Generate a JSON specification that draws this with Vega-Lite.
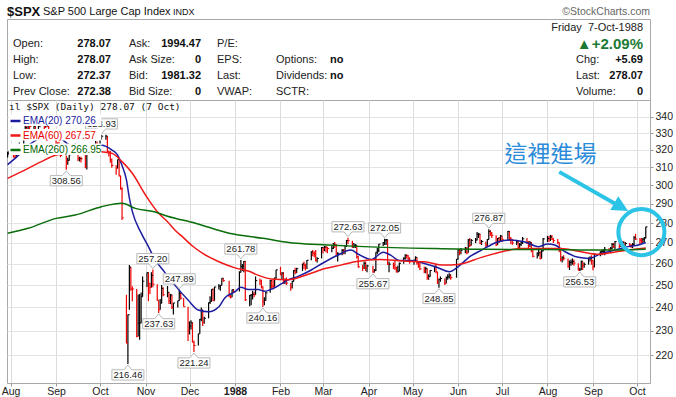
{
"$schema":"https://vega.github.io/schema/vega-lite/v6.json",
"background":"white",
"padding":{"left":0,"top":5,"right":0,"bottom":0},
"spacing":0,
"bounds":"flush",
"resolve":{"scale":{"color":"independent"},"legend":{"color":"independent"}},
"config":{"view":{"stroke":"#a8a8a8"},"font":"Liberation Sans"},
"datasets":{
"head":[
{"t":"$SPX","c":0,"r":0,"k":"sym"},
{"t":"S&P 500 Large Cap Index","c":2,"r":0,"k":"name"},
{"t":"INDX","c":5,"r":0,"k":"small"},
{"t":"©StockCharts.com","c":12,"r":0,"k":"copy"},
{"t":"Friday\u00a0\u00a07-Oct-1988","c":11,"r":1,"k":"date"},
{"t":"▲+2.09%","c":11,"r":2,"k":"pct"},
{"t":"Open:","c":1,"r":2,"k":"lab"},
{"t":"278.07","c":3,"r":2,"k":"val"},
{"t":"Ask:","c":4,"r":2,"k":"lab"},
{"t":"1994.47","c":6,"r":2,"k":"val"},
{"t":"P/E:","c":7,"r":2,"k":"lab"},
{"t":"High:","c":1,"r":3,"k":"lab"},
{"t":"278.07","c":3,"r":3,"k":"val"},
{"t":"Ask Size:","c":4,"r":3,"k":"lab"},
{"t":"0","c":6,"r":3,"k":"val"},
{"t":"EPS:","c":7,"r":3,"k":"lab"},
{"t":"Options:","c":8,"r":3,"k":"lab"},
{"t":"no","c":9,"r":3,"k":"valL"},
{"t":"Chg:","c":10,"r":3,"k":"lab"},
{"t":"+5.69","c":11,"r":3,"k":"val"},
{"t":"Low:","c":1,"r":4,"k":"lab"},
{"t":"272.37","c":3,"r":4,"k":"val"},
{"t":"Bid:","c":4,"r":4,"k":"lab"},
{"t":"1981.32","c":6,"r":4,"k":"val"},
{"t":"Last:","c":7,"r":4,"k":"lab"},
{"t":"Dividends:","c":8,"r":4,"k":"lab"},
{"t":"no","c":9,"r":4,"k":"valL"},
{"t":"Last:","c":10,"r":4,"k":"lab"},
{"t":"278.07","c":11,"r":4,"k":"val"},
{"t":"Prev Close:","c":1,"r":5,"k":"lab"},
{"t":"272.38","c":3,"r":5,"k":"val"},
{"t":"Bid Size:","c":4,"r":5,"k":"lab"},
{"t":"0","c":6,"r":5,"k":"val"},
{"t":"VWAP:","c":7,"r":5,"k":"lab"},
{"t":"SCTR:","c":8,"r":5,"k":"lab"},
{"t":"Volume:","c":10,"r":5,"k":"lab"},
{"t":"0","c":11,"r":5,"k":"val"}
],
"px":[
{"d":"1987-07-30","h":318.9,"l":315.6,"c":318.05},
{"d":"1987-07-31","h":319.3,"l":317.0,"c":318.66},
{"d":"1987-08-03","h":319.0,"l":315.5,"c":317.57},
{"d":"1987-08-04","h":318.3,"l":315.0,"c":316.23},
{"d":"1987-08-05","h":320.0,"l":316.2,"c":318.45},
{"d":"1987-08-06","h":322.8,"l":318.0,"c":322.1},
{"d":"1987-08-07","h":324.3,"l":321.5,"c":323.0},
{"d":"1987-08-10","h":328.0,"l":322.0,"c":328.0},
{"d":"1987-08-11","h":334.6,"l":328.0,"c":333.33},
{"d":"1987-08-12","h":334.6,"l":331.0,"c":332.39},
{"d":"1987-08-13","h":335.5,"l":331.5,"c":334.65},
{"d":"1987-08-14","h":335.0,"l":332.0,"c":333.99},
{"d":"1987-08-17","h":335.5,"l":332.5,"c":334.11},
{"d":"1987-08-18","h":334.0,"l":326.8,"c":329.25},
{"d":"1987-08-19","h":330.0,"l":326.0,"c":329.83},
{"d":"1987-08-20","h":335.2,"l":329.8,"c":334.84},
{"d":"1987-08-21","h":337.0,"l":333.5,"c":335.9},
{"d":"1987-08-24","h":335.9,"l":331.9,"c":333.33},
{"d":"1987-08-25","h":337.9,"l":333.3,"c":336.77},
{"d":"1987-08-26","h":337.5,"l":333.5,"c":334.57},
{"d":"1987-08-27","h":334.6,"l":330.5,"c":331.38},
{"d":"1987-08-28","h":331.4,"l":326.5,"c":327.04},
{"d":"1987-08-31","h":330.0,"l":326.0,"c":329.8},
{"d":"1987-09-01","h":332.2,"l":322.8,"c":323.4},
{"d":"1987-09-02","h":324.5,"l":318.2,"c":321.68},
{"d":"1987-09-03","h":324.8,"l":318.4,"c":320.21},
{"d":"1987-09-04","h":322.2,"l":315.8,"c":316.7},
{"d":"1987-09-08","h":316.7,"l":308.56,"c":313.56},
{"d":"1987-09-09","h":315.4,"l":311.5,"c":313.92},
{"d":"1987-09-10","h":318.5,"l":313.9,"c":317.13},
{"d":"1987-09-11","h":322.4,"l":317.1,"c":321.98},
{"d":"1987-09-14","h":323.8,"l":320.2,"c":323.08},
{"d":"1987-09-15","h":323.1,"l":317.5,"c":317.74},
{"d":"1987-09-16","h":319.4,"l":313.6,"c":314.86},
{"d":"1987-09-17","h":316.0,"l":313.3,"c":314.93},
{"d":"1987-09-18","h":316.0,"l":312.7,"c":314.86},
{"d":"1987-09-21","h":317.8,"l":309.5,"c":310.54},
{"d":"1987-09-22","h":319.6,"l":308.7,"c":319.5},
{"d":"1987-09-23","h":322.2,"l":319.0,"c":321.19},
{"d":"1987-09-24","h":322.0,"l":319.3,"c":319.72},
{"d":"1987-09-25","h":320.8,"l":318.5,"c":320.16},
{"d":"1987-09-28","h":325.3,"l":320.2,"c":323.2},
{"d":"1987-09-29","h":324.9,"l":320.6,"c":321.69},
{"d":"1987-09-30","h":322.7,"l":320.0,"c":321.83},
{"d":"1987-10-01","h":327.3,"l":321.8,"c":327.33},
{"d":"1987-10-02","h":328.93,"l":326.0,"c":328.07},
{"d":"1987-10-05","h":328.9,"l":326.0,"c":328.08},
{"d":"1987-10-06","h":328.1,"l":318.7,"c":319.22},
{"d":"1987-10-07","h":319.3,"l":316.2,"c":318.54},
{"d":"1987-10-08","h":319.3,"l":312.5,"c":314.16},
{"d":"1987-10-09","h":315.0,"l":309.8,"c":311.07},
{"d":"1987-10-12","h":311.1,"l":305.8,"c":309.39},
{"d":"1987-10-13","h":314.5,"l":309.4,"c":314.52},
{"d":"1987-10-14","h":314.5,"l":304.8,"c":305.23},
{"d":"1987-10-15","h":305.2,"l":297.6,"c":298.08},
{"d":"1987-10-16","h":298.9,"l":281.5,"c":282.7},
{"d":"1987-10-19","h":245.6,"l":224.8,"c":224.84},
{"d":"1987-10-20","h":237.0,"l":216.46,"c":236.83},
{"d":"1987-10-21","h":259.3,"l":239.0,"c":258.38},
{"d":"1987-10-22","h":258.4,"l":247.5,"c":248.25},
{"d":"1987-10-23","h":249.5,"l":242.8,"c":248.22},
{"d":"1987-10-26","h":248.2,"l":227.3,"c":227.67},
{"d":"1987-10-27","h":245.8,"l":227.7,"c":233.19},
{"d":"1987-10-28","h":246.0,"l":226.3,"c":233.28},
{"d":"1987-10-29","h":246.7,"l":233.3,"c":244.77},
{"d":"1987-10-30","h":254.0,"l":244.8,"c":251.79},
{"d":"1987-11-02","h":255.8,"l":249.2,"c":255.75},
{"d":"1987-11-03","h":255.8,"l":242.8,"c":250.82},
{"d":"1987-11-04","h":251.0,"l":246.0,"c":248.96},
{"d":"1987-11-05","h":256.0,"l":248.9,"c":254.48},
{"d":"1987-11-06","h":257.2,"l":249.0,"c":250.41},
{"d":"1987-11-09","h":250.4,"l":243.0,"c":243.17},
{"d":"1987-11-10","h":243.2,"l":237.63,"c":239.0},
{"d":"1987-11-11","h":243.8,"l":239.0,"c":241.9},
{"d":"1987-11-12","h":250.0,"l":241.9,"c":248.52},
{"d":"1987-11-13","h":249.0,"l":245.0,"c":245.64},
{"d":"1987-11-16","h":249.6,"l":244.5,"c":246.76},
{"d":"1987-11-17","h":246.8,"l":241.5,"c":243.04},
{"d":"1987-11-18","h":246.0,"l":241.5,"c":245.55},
{"d":"1987-11-19","h":245.6,"l":239.3,"c":240.05},
{"d":"1987-11-20","h":242.0,"l":237.0,"c":242.0},
{"d":"1987-11-23","h":243.0,"l":240.0,"c":242.99},
{"d":"1987-11-24","h":247.89,"l":243.0,"c":246.39},
{"d":"1987-11-25","h":246.4,"l":243.5,"c":244.1},
{"d":"1987-11-27","h":244.1,"l":240.3,"c":240.34},
{"d":"1987-11-30","h":240.3,"l":225.8,"c":230.3},
{"d":"1987-12-01","h":234.0,"l":228.5,"c":232.0},
{"d":"1987-12-02","h":234.5,"l":230.5,"c":233.45},
{"d":"1987-12-03","h":233.5,"l":225.2,"c":225.21},
{"d":"1987-12-04","h":226.0,"l":221.24,"c":223.92},
{"d":"1987-12-07","h":228.8,"l":223.9,"c":228.76},
{"d":"1987-12-08","h":235.0,"l":228.8,"c":234.91},
{"d":"1987-12-09","h":240.0,"l":234.0,"c":238.89},
{"d":"1987-12-10","h":239.0,"l":232.0,"c":233.57},
{"d":"1987-12-11","h":236.0,"l":233.0,"c":235.32},
{"d":"1987-12-14","h":242.2,"l":235.3,"c":242.19},
{"d":"1987-12-15","h":245.0,"l":241.5,"c":242.81},
{"d":"1987-12-16","h":248.1,"l":242.5,"c":248.08},
{"d":"1987-12-17","h":248.5,"l":242.9,"c":242.98},
{"d":"1987-12-18","h":249.2,"l":243.0,"c":249.16},
{"d":"1987-12-21","h":250.5,"l":248.0,"c":249.54},
{"d":"1987-12-22","h":250.0,"l":247.5,"c":249.95},
{"d":"1987-12-23","h":253.2,"l":249.9,"c":253.16},
{"d":"1987-12-24","h":253.2,"l":251.5,"c":252.03},
{"d":"1987-12-28","h":252.0,"l":244.5,"c":245.57},
{"d":"1987-12-29","h":245.9,"l":244.0,"c":244.59},
{"d":"1987-12-30","h":248.0,"l":244.6,"c":247.86},
{"d":"1987-12-31","h":248.2,"l":246.5,"c":247.08},
{"d":"1988-01-04","h":256.4,"l":247.1,"c":255.94},
{"d":"1988-01-05","h":261.78,"l":255.9,"c":258.63},
{"d":"1988-01-06","h":259.8,"l":256.5,"c":258.89},
{"d":"1988-01-07","h":261.2,"l":256.0,"c":261.07},
{"d":"1988-01-08","h":261.1,"l":242.9,"c":243.4},
{"d":"1988-01-11","h":245.5,"l":240.5,"c":245.42},
{"d":"1988-01-12","h":246.0,"l":241.0,"c":245.81},
{"d":"1988-01-13","h":247.5,"l":243.5,"c":245.88},
{"d":"1988-01-14","h":247.0,"l":244.5,"c":245.63},
{"d":"1988-01-15","h":254.0,"l":245.6,"c":252.05},
{"d":"1988-01-18","h":253.0,"l":250.0,"c":251.88},
{"d":"1988-01-19","h":252.5,"l":248.5,"c":249.32},
{"d":"1988-01-20","h":249.3,"l":240.16,"c":242.63},
{"d":"1988-01-21","h":244.5,"l":241.0,"c":243.14},
{"d":"1988-01-22","h":247.0,"l":243.1,"c":246.5},
{"d":"1988-01-25","h":252.5,"l":246.5,"c":252.17},
{"d":"1988-01-26","h":252.2,"l":248.5,"c":249.57},
{"d":"1988-01-27","h":252.8,"l":248.0,"c":249.38},
{"d":"1988-01-28","h":253.5,"l":249.4,"c":253.29},
{"d":"1988-01-29","h":257.1,"l":253.0,"c":257.07},
{"d":"1988-02-01","h":258.5,"l":254.5,"c":255.04},
{"d":"1988-02-02","h":256.0,"l":252.5,"c":255.57},
{"d":"1988-02-03","h":256.0,"l":250.5,"c":252.21},
{"d":"1988-02-04","h":253.0,"l":250.5,"c":252.21},
{"d":"1988-02-05","h":253.5,"l":250.0,"c":250.96},
{"d":"1988-02-08","h":251.0,"l":247.5,"c":249.1},
{"d":"1988-02-09","h":252.0,"l":248.5,"c":251.72},
{"d":"1988-02-10","h":257.0,"l":251.7,"c":256.66},
{"d":"1988-02-11","h":258.0,"l":255.0,"c":255.95},
{"d":"1988-02-12","h":258.0,"l":255.5,"c":257.63},
{"d":"1988-02-16","h":260.0,"l":256.5,"c":259.83},
{"d":"1988-02-17","h":261.0,"l":257.5,"c":259.21},
{"d":"1988-02-18","h":260.0,"l":256.8,"c":257.91},
{"d":"1988-02-19","h":261.7,"l":257.5,"c":261.61},
{"d":"1988-02-22","h":266.0,"l":261.6,"c":265.64},
{"d":"1988-02-23","h":266.5,"l":263.5,"c":265.02},
{"d":"1988-02-24","h":266.0,"l":263.0,"c":264.43},
{"d":"1988-02-25","h":266.5,"l":261.0,"c":261.58},
{"d":"1988-02-26","h":263.0,"l":260.5,"c":262.46},
{"d":"1988-02-29","h":268.0,"l":262.5,"c":267.82},
{"d":"1988-03-01","h":268.0,"l":265.0,"c":267.22},
{"d":"1988-03-02","h":268.5,"l":266.0,"c":267.98},
{"d":"1988-03-03","h":268.5,"l":265.5,"c":267.88},
{"d":"1988-03-04","h":268.0,"l":265.0,"c":267.3},
{"d":"1988-03-07","h":268.5,"l":265.5,"c":267.38},
{"d":"1988-03-08","h":270.0,"l":267.0,"c":269.43},
{"d":"1988-03-09","h":270.5,"l":267.5,"c":269.06},
{"d":"1988-03-10","h":269.5,"l":263.5,"c":263.84},
{"d":"1988-03-11","h":265.5,"l":261.0,"c":264.94},
{"d":"1988-03-14","h":267.0,"l":264.0,"c":266.37},
{"d":"1988-03-15","h":267.0,"l":264.5,"c":266.13},
{"d":"1988-03-16","h":269.0,"l":264.5,"c":268.65},
{"d":"1988-03-17","h":271.5,"l":268.0,"c":271.22},
{"d":"1988-03-18","h":272.63,"l":269.5,"c":271.12},
{"d":"1988-03-21","h":271.1,"l":267.5,"c":268.74},
{"d":"1988-03-22","h":270.0,"l":267.5,"c":268.84},
{"d":"1988-03-23","h":269.5,"l":267.5,"c":268.91},
{"d":"1988-03-24","h":268.9,"l":262.5,"c":263.35},
{"d":"1988-03-25","h":263.5,"l":258.0,"c":258.51},
{"d":"1988-03-28","h":259.5,"l":256.5,"c":258.06},
{"d":"1988-03-29","h":261.0,"l":257.5,"c":260.07},
{"d":"1988-03-30","h":261.0,"l":256.5,"c":258.07},
{"d":"1988-03-31","h":259.5,"l":256.0,"c":258.89},
{"d":"1988-04-04","h":259.0,"l":255.67,"c":256.09},
{"d":"1988-04-05","h":257.5,"l":255.8,"c":256.72},
{"d":"1988-04-06","h":265.5,"l":256.5,"c":265.49},
{"d":"1988-04-07","h":267.5,"l":264.5,"c":266.16},
{"d":"1988-04-08","h":269.5,"l":265.5,"c":269.43},
{"d":"1988-04-11","h":270.5,"l":268.5,"c":270.16},
{"d":"1988-04-12","h":272.05,"l":269.0,"c":271.37},
{"d":"1988-04-13","h":271.9,"l":269.0,"c":271.58},
{"d":"1988-04-14","h":271.6,"l":259.4,"c":259.75},
{"d":"1988-04-15","h":261.0,"l":256.0,"c":259.77},
{"d":"1988-04-18","h":260.5,"l":257.5,"c":259.21},
{"d":"1988-04-19","h":261.5,"l":257.0,"c":257.92},
{"d":"1988-04-20","h":258.5,"l":255.8,"c":256.13},
{"d":"1988-04-21","h":259.0,"l":255.8,"c":256.42},
{"d":"1988-04-22","h":260.5,"l":256.4,"c":260.14},
{"d":"1988-04-25","h":263.0,"l":260.0,"c":262.51},
{"d":"1988-04-26","h":264.5,"l":262.0,"c":263.93},
{"d":"1988-04-27","h":264.5,"l":262.5,"c":263.8},
{"d":"1988-04-28","h":264.0,"l":261.5,"c":262.61},
{"d":"1988-04-29","h":263.0,"l":260.0,"c":261.33},
{"d":"1988-05-02","h":262.0,"l":259.5,"c":261.56},
{"d":"1988-05-03","h":263.5,"l":261.0,"c":263.0},
{"d":"1988-05-04","h":263.0,"l":259.5,"c":260.32},
{"d":"1988-05-05","h":261.0,"l":258.0,"c":258.79},
{"d":"1988-05-06","h":260.5,"l":257.0,"c":257.48},
{"d":"1988-05-09","h":258.5,"l":255.5,"c":256.54},
{"d":"1988-05-10","h":258.5,"l":255.5,"c":257.62},
{"d":"1988-05-11","h":257.6,"l":252.5,"c":253.31},
{"d":"1988-05-12","h":255.0,"l":252.5,"c":254.04},
{"d":"1988-05-13","h":257.0,"l":254.0,"c":256.78},
{"d":"1988-05-16","h":259.0,"l":256.0,"c":258.71},
{"d":"1988-05-17","h":260.0,"l":255.5,"c":256.12},
{"d":"1988-05-18","h":256.1,"l":250.5,"c":251.35},
{"d":"1988-05-19","h":253.0,"l":248.85,"c":252.57},
{"d":"1988-05-20","h":254.0,"l":251.5,"c":253.02},
{"d":"1988-05-23","h":253.0,"l":250.0,"c":250.83},
{"d":"1988-05-24","h":254.0,"l":250.8,"c":253.51},
{"d":"1988-05-25","h":255.0,"l":252.5,"c":253.76},
{"d":"1988-05-26","h":255.5,"l":253.0,"c":254.63},
{"d":"1988-05-27","h":255.0,"l":252.5,"c":253.42},
{"d":"1988-05-31","h":262.2,"l":253.4,"c":262.16},
{"d":"1988-06-01","h":267.0,"l":262.0,"c":266.69},
{"d":"1988-06-02","h":267.0,"l":264.0,"c":265.33},
{"d":"1988-06-03","h":267.5,"l":264.5,"c":266.45},
{"d":"1988-06-06","h":268.0,"l":265.0,"c":267.05},
{"d":"1988-06-07","h":268.0,"l":264.5,"c":265.17},
{"d":"1988-06-08","h":272.0,"l":265.2,"c":271.52},
{"d":"1988-06-09","h":272.5,"l":268.0,"c":268.82},
{"d":"1988-06-10","h":272.0,"l":268.8,"c":271.26},
{"d":"1988-06-13","h":272.5,"l":270.0,"c":271.43},
{"d":"1988-06-14","h":275.5,"l":271.4,"c":274.3},
{"d":"1988-06-15","h":275.0,"l":272.5,"c":274.45},
{"d":"1988-06-16","h":274.5,"l":269.5,"c":269.77},
{"d":"1988-06-17","h":271.5,"l":269.0,"c":270.68},
{"d":"1988-06-20","h":270.7,"l":267.5,"c":268.94},
{"d":"1988-06-21","h":272.0,"l":268.0,"c":271.67},
{"d":"1988-06-22","h":276.87,"l":271.7,"c":275.66},
{"d":"1988-06-23","h":276.5,"l":273.5,"c":274.82},
{"d":"1988-06-24","h":275.5,"l":272.5,"c":273.78},
{"d":"1988-06-27","h":273.8,"l":268.5,"c":269.06},
{"d":"1988-06-28","h":272.5,"l":269.0,"c":272.31},
{"d":"1988-06-29","h":273.0,"l":270.0,"c":270.98},
{"d":"1988-06-30","h":274.0,"l":270.5,"c":273.5},
{"d":"1988-07-01","h":273.5,"l":270.5,"c":271.78},
{"d":"1988-07-05","h":276.0,"l":271.5,"c":275.81},
{"d":"1988-07-06","h":276.0,"l":271.0,"c":272.02},
{"d":"1988-07-07","h":273.0,"l":269.5,"c":271.78},
{"d":"1988-07-08","h":272.0,"l":269.0,"c":270.02},
{"d":"1988-07-11","h":271.5,"l":269.0,"c":270.55},
{"d":"1988-07-12","h":271.0,"l":267.0,"c":267.85},
{"d":"1988-07-13","h":270.0,"l":266.5,"c":269.32},
{"d":"1988-07-14","h":271.0,"l":268.5,"c":270.26},
{"d":"1988-07-15","h":273.0,"l":269.5,"c":272.05},
{"d":"1988-07-18","h":272.5,"l":269.5,"c":270.51},
{"d":"1988-07-19","h":271.0,"l":267.5,"c":268.47},
{"d":"1988-07-20","h":271.0,"l":268.0,"c":270.0},
{"d":"1988-07-21","h":270.5,"l":265.5,"c":266.66},
{"d":"1988-07-22","h":267.0,"l":263.0,"c":263.5},
{"d":"1988-07-25","h":265.5,"l":262.5,"c":264.68},
{"d":"1988-07-26","h":266.5,"l":263.5,"c":265.19},
{"d":"1988-07-27","h":266.0,"l":262.0,"c":262.5},
{"d":"1988-07-28","h":266.5,"l":262.5,"c":266.02},
{"d":"1988-07-29","h":272.5,"l":266.0,"c":272.02},
{"d":"1988-08-01","h":273.5,"l":270.5,"c":272.21},
{"d":"1988-08-02","h":273.5,"l":270.5,"c":272.06},
{"d":"1988-08-03","h":274.0,"l":271.0,"c":272.98},
{"d":"1988-08-04","h":274.0,"l":271.5,"c":271.93},
{"d":"1988-08-05","h":272.5,"l":270.0,"c":271.15},
{"d":"1988-08-08","h":272.0,"l":269.5,"c":270.2},
{"d":"1988-08-09","h":270.2,"l":265.5,"c":266.49},
{"d":"1988-08-10","h":266.5,"l":261.0,"c":261.9},
{"d":"1988-08-11","h":263.5,"l":260.5,"c":262.75},
{"d":"1988-08-12","h":264.0,"l":261.5,"c":262.55},
{"d":"1988-08-15","h":262.5,"l":258.0,"c":258.69},
{"d":"1988-08-16","h":261.5,"l":257.0,"c":260.56},
{"d":"1988-08-17","h":262.0,"l":259.0,"c":260.77},
{"d":"1988-08-18","h":262.5,"l":259.5,"c":261.03},
{"d":"1988-08-19","h":262.0,"l":259.0,"c":260.24},
{"d":"1988-08-22","h":260.2,"l":256.8,"c":256.98},
{"d":"1988-08-23","h":258.0,"l":256.53,"c":257.09},
{"d":"1988-08-24","h":261.5,"l":257.0,"c":261.13},
{"d":"1988-08-25","h":261.0,"l":257.0,"c":259.18},
{"d":"1988-08-26","h":260.5,"l":258.0,"c":259.68},
{"d":"1988-08-29","h":263.0,"l":259.5,"c":262.33},
{"d":"1988-08-30","h":263.5,"l":261.0,"c":262.51},
{"d":"1988-08-31","h":264.0,"l":259.5,"c":261.52},
{"d":"1988-09-01","h":261.5,"l":256.9,"c":258.35},
{"d":"1988-09-02","h":265.0,"l":258.3,"c":264.48},
{"d":"1988-09-06","h":266.0,"l":263.5,"c":265.59},
{"d":"1988-09-07","h":266.5,"l":264.0,"c":265.87},
{"d":"1988-09-08","h":267.0,"l":264.5,"c":265.88},
{"d":"1988-09-09","h":268.0,"l":264.0,"c":266.84},
{"d":"1988-09-12","h":267.5,"l":265.5,"c":266.47},
{"d":"1988-09-13","h":268.0,"l":265.0,"c":267.43},
{"d":"1988-09-14","h":270.0,"l":267.0,"c":269.31},
{"d":"1988-09-15","h":270.0,"l":267.5,"c":268.13},
{"d":"1988-09-16","h":271.0,"l":267.0,"c":270.65},
{"d":"1988-09-19","h":270.6,"l":267.5,"c":268.82},
{"d":"1988-09-20","h":270.5,"l":268.0,"c":269.73},
{"d":"1988-09-21","h":271.0,"l":269.0,"c":270.16},
{"d":"1988-09-22","h":271.0,"l":268.5,"c":269.18},
{"d":"1988-09-23","h":270.5,"l":268.5,"c":269.76},
{"d":"1988-09-26","h":270.0,"l":268.0,"c":268.88},
{"d":"1988-09-27","h":269.5,"l":267.5,"c":268.26},
{"d":"1988-09-28","h":270.0,"l":267.5,"c":269.08},
{"d":"1988-09-29","h":273.5,"l":269.0,"c":272.59},
{"d":"1988-09-30","h":274.5,"l":271.5,"c":271.91},
{"d":"1988-10-03","h":272.5,"l":269.5,"c":271.38},
{"d":"1988-10-04","h":272.5,"l":270.0,"c":270.62},
{"d":"1988-10-05","h":272.5,"l":269.5,"c":271.86},
{"d":"1988-10-06","h":273.0,"l":270.5,"c":272.38},
{"d":"1988-10-07","h":278.07,"l":272.37,"c":278.07}
],
"ema":[
{"d":"1987-07-30","s":"EMA(20) 270.26","v":311.5},
{"d":"1987-08-06","s":"EMA(20) 270.26","v":316.5},
{"d":"1987-08-13","s":"EMA(20) 270.26","v":322.5},
{"d":"1987-08-20","s":"EMA(20) 270.26","v":326.5},
{"d":"1987-08-27","s":"EMA(20) 270.26","v":329.5},
{"d":"1987-09-03","s":"EMA(20) 270.26","v":327.5},
{"d":"1987-09-10","s":"EMA(20) 270.26","v":323.0},
{"d":"1987-09-14","s":"EMA(20) 270.26","v":321.9},
{"d":"1987-09-18","s":"EMA(20) 270.26","v":320.3},
{"d":"1987-09-25","s":"EMA(20) 270.26","v":320.0},
{"d":"1987-10-02","s":"EMA(20) 270.26","v":322.7},
{"d":"1987-10-09","s":"EMA(20) 270.26","v":320.0},
{"d":"1987-10-13","s":"EMA(20) 270.26","v":317.0},
{"d":"1987-10-16","s":"EMA(20) 270.26","v":311.0},
{"d":"1987-10-19","s":"EMA(20) 270.26","v":303.0},
{"d":"1987-10-21","s":"EMA(20) 270.26","v":293.0},
{"d":"1987-10-23","s":"EMA(20) 270.26","v":286.0},
{"d":"1987-10-29","s":"EMA(20) 270.26","v":275.0},
{"d":"1987-11-03","s":"EMA(20) 270.26","v":268.2},
{"d":"1987-11-07","s":"EMA(20) 270.26","v":262.5},
{"d":"1987-11-14","s":"EMA(20) 270.26","v":256.0},
{"d":"1987-11-21","s":"EMA(20) 270.26","v":250.0},
{"d":"1987-11-30","s":"EMA(20) 270.26","v":243.3},
{"d":"1987-12-07","s":"EMA(20) 270.26","v":238.9},
{"d":"1987-12-14","s":"EMA(20) 270.26","v":238.1},
{"d":"1987-12-21","s":"EMA(20) 270.26","v":240.3},
{"d":"1987-12-25","s":"EMA(20) 270.26","v":244.2},
{"d":"1988-01-01","s":"EMA(20) 270.26","v":247.0},
{"d":"1988-01-05","s":"EMA(20) 270.26","v":249.0},
{"d":"1988-01-10","s":"EMA(20) 270.26","v":248.0},
{"d":"1988-01-17","s":"EMA(20) 270.26","v":248.0},
{"d":"1988-01-21","s":"EMA(20) 270.26","v":247.2},
{"d":"1988-01-28","s":"EMA(20) 270.26","v":248.8},
{"d":"1988-02-06","s":"EMA(20) 270.26","v":252.3},
{"d":"1988-02-13","s":"EMA(20) 270.26","v":254.0},
{"d":"1988-02-22","s":"EMA(20) 270.26","v":257.0},
{"d":"1988-03-01","s":"EMA(20) 270.26","v":260.3},
{"d":"1988-03-11","s":"EMA(20) 270.26","v":264.0},
{"d":"1988-03-20","s":"EMA(20) 270.26","v":266.5},
{"d":"1988-03-25","s":"EMA(20) 270.26","v":264.5},
{"d":"1988-04-03","s":"EMA(20) 270.26","v":262.0},
{"d":"1988-04-11","s":"EMA(20) 270.26","v":265.5},
{"d":"1988-04-16","s":"EMA(20) 270.26","v":264.1},
{"d":"1988-04-22","s":"EMA(20) 270.26","v":261.5},
{"d":"1988-04-30","s":"EMA(20) 270.26","v":261.5},
{"d":"1988-05-09","s":"EMA(20) 270.26","v":260.1},
{"d":"1988-05-18","s":"EMA(20) 270.26","v":258.2},
{"d":"1988-05-26","s":"EMA(20) 270.26","v":256.2},
{"d":"1988-06-01","s":"EMA(20) 270.26","v":258.5},
{"d":"1988-06-09","s":"EMA(20) 270.26","v":263.3},
{"d":"1988-06-17","s":"EMA(20) 270.26","v":266.5},
{"d":"1988-06-28","s":"EMA(20) 270.26","v":270.5},
{"d":"1988-07-07","s":"EMA(20) 270.26","v":271.5},
{"d":"1988-07-16","s":"EMA(20) 270.26","v":270.6},
{"d":"1988-07-26","s":"EMA(20) 270.26","v":268.2},
{"d":"1988-08-01","s":"EMA(20) 270.26","v":269.5},
{"d":"1988-08-06","s":"EMA(20) 270.26","v":269.0},
{"d":"1988-08-13","s":"EMA(20) 270.26","v":265.7},
{"d":"1988-08-22","s":"EMA(20) 270.26","v":263.0},
{"d":"1988-08-29","s":"EMA(20) 270.26","v":262.5},
{"d":"1988-09-07","s":"EMA(20) 270.26","v":264.9},
{"d":"1988-09-16","s":"EMA(20) 270.26","v":266.5},
{"d":"1988-09-25","s":"EMA(20) 270.26","v":268.2},
{"d":"1988-10-02","s":"EMA(20) 270.26","v":269.0},
{"d":"1988-10-07","s":"EMA(20) 270.26","v":270.26},
{"d":"1987-07-30","s":"EMA(60) 267.57","v":303.8},
{"d":"1987-08-13","s":"EMA(60) 267.57","v":309.4},
{"d":"1987-08-22","s":"EMA(60) 267.57","v":313.2},
{"d":"1987-09-01","s":"EMA(60) 267.57","v":317.0},
{"d":"1987-09-10","s":"EMA(60) 267.57","v":318.0},
{"d":"1987-09-28","s":"EMA(60) 267.57","v":319.0},
{"d":"1987-10-09","s":"EMA(60) 267.57","v":318.0},
{"d":"1987-10-16","s":"EMA(60) 267.57","v":313.2},
{"d":"1987-10-23","s":"EMA(60) 267.57","v":306.6},
{"d":"1987-11-01","s":"EMA(60) 267.57","v":294.7},
{"d":"1987-11-10","s":"EMA(60) 267.57","v":285.0},
{"d":"1987-11-16","s":"EMA(60) 267.57","v":280.7},
{"d":"1987-11-21","s":"EMA(60) 267.57","v":276.5},
{"d":"1987-11-27","s":"EMA(60) 267.57","v":272.5},
{"d":"1987-12-03","s":"EMA(60) 267.57","v":268.5},
{"d":"1987-12-10","s":"EMA(60) 267.57","v":264.9},
{"d":"1987-12-21","s":"EMA(60) 267.57","v":260.9},
{"d":"1988-01-01","s":"EMA(60) 267.57","v":258.0},
{"d":"1988-01-10","s":"EMA(60) 267.57","v":256.5},
{"d":"1988-01-17","s":"EMA(60) 267.57","v":254.5},
{"d":"1988-01-26","s":"EMA(60) 267.57","v":252.8},
{"d":"1988-02-06","s":"EMA(60) 267.57","v":252.5},
{"d":"1988-02-19","s":"EMA(60) 267.57","v":254.8},
{"d":"1988-03-03","s":"EMA(60) 267.57","v":257.8},
{"d":"1988-03-13","s":"EMA(60) 267.57","v":259.3},
{"d":"1988-03-24","s":"EMA(60) 267.57","v":261.0},
{"d":"1988-04-09","s":"EMA(60) 267.57","v":262.0},
{"d":"1988-04-25","s":"EMA(60) 267.57","v":261.2},
{"d":"1988-05-09","s":"EMA(60) 267.57","v":260.9},
{"d":"1988-05-22","s":"EMA(60) 267.57","v":259.3},
{"d":"1988-06-01","s":"EMA(60) 267.57","v":259.6},
{"d":"1988-06-17","s":"EMA(60) 267.57","v":263.0},
{"d":"1988-07-01","s":"EMA(60) 267.57","v":265.7},
{"d":"1988-07-14","s":"EMA(60) 267.57","v":267.3},
{"d":"1988-07-28","s":"EMA(60) 267.57","v":267.3},
{"d":"1988-08-10","s":"EMA(60) 267.57","v":267.3},
{"d":"1988-08-24","s":"EMA(60) 267.57","v":265.7},
{"d":"1988-09-04","s":"EMA(60) 267.57","v":264.5},
{"d":"1988-09-17","s":"EMA(60) 267.57","v":265.7},
{"d":"1988-09-28","s":"EMA(60) 267.57","v":266.8},
{"d":"1988-10-07","s":"EMA(60) 267.57","v":267.57},
{"d":"1987-07-30","s":"EMA(260) 266.95","v":274.8},
{"d":"1987-08-13","s":"EMA(260) 266.95","v":277.3},
{"d":"1987-09-01","s":"EMA(260) 266.95","v":282.4},
{"d":"1987-09-14","s":"EMA(260) 266.95","v":284.1},
{"d":"1987-10-02","s":"EMA(260) 266.95","v":288.5},
{"d":"1987-10-16","s":"EMA(260) 266.95","v":290.3},
{"d":"1987-10-25","s":"EMA(260) 266.95","v":287.6},
{"d":"1987-11-07","s":"EMA(260) 266.95","v":285.8},
{"d":"1987-11-16","s":"EMA(260) 266.95","v":283.5},
{"d":"1987-12-05","s":"EMA(260) 266.95","v":279.9},
{"d":"1987-12-28","s":"EMA(260) 266.95","v":274.8},
{"d":"1988-01-20","s":"EMA(260) 266.95","v":272.3},
{"d":"1988-02-12","s":"EMA(260) 266.95","v":269.8},
{"d":"1988-03-04","s":"EMA(260) 266.95","v":269.0},
{"d":"1988-03-29","s":"EMA(260) 266.95","v":268.2},
{"d":"1988-05-14","s":"EMA(260) 266.95","v":267.3},
{"d":"1988-06-17","s":"EMA(260) 266.95","v":266.9},
{"d":"1988-08-01","s":"EMA(260) 266.95","v":266.8},
{"d":"1988-09-04","s":"EMA(260) 266.95","v":266.5},
{"d":"1988-10-07","s":"EMA(260) 266.95","v":266.95}
],
"ann":[
{"d":"1987-10-02","v":328.93,"p":"high"},
{"d":"1987-09-08","v":308.56,"p":"low"},
{"d":"1987-10-20","v":216.46,"p":"low"},
{"d":"1987-11-06","v":257.2,"p":"high"},
{"d":"1987-11-10","v":237.63,"p":"low"},
{"d":"1987-11-24","v":247.89,"p":"high"},
{"d":"1987-12-04","v":221.24,"p":"low"},
{"d":"1988-01-05","v":261.78,"p":"high"},
{"d":"1988-01-20","v":240.16,"p":"low"},
{"d":"1988-03-18","v":272.63,"p":"high"},
{"d":"1988-04-04","v":255.67,"p":"low"},
{"d":"1988-04-12","v":272.05,"p":"high"},
{"d":"1988-05-19","v":248.85,"p":"low"},
{"d":"1988-06-22","v":276.87,"p":"high"},
{"d":"1988-08-23","v":256.53,"p":"low"}
],
"note":[
{"g":"text","d":"1988-08-03","v":317,"t":"這裡進場"},
{"g":"arrow","d":"1988-08-09","v":307.4},
{"g":"arrow","d":"1988-09-20","v":288.3},
{"g":"head","d":"1988-09-25","v":286.2},
{"g":"ring","d":"1988-10-04","v":275.4}
]
},
"vconcat":[
{
"width":643,"height":81,
"data":{"name":"head"},
"encoding":{
"x":{"field":"c","type":"quantitative","scale":{"domain":[0,1,2,3,4,5,6,7,8,9,10,11,12],"range":[0,6,36,104,122,166,194,210,269,323,569,636,643],"nice":false,"zero":false},"axis":null},
"y":{"field":"r","type":"quantitative","scale":{"domain":[0,5],"range":[-7,73],"nice":false,"zero":false},"axis":null},
"text":{"field":"t"}
},
"layer":[
{"transform":[{"filter":"datum.k=='sym'"}],"mark":{"type":"text","align":"left","baseline":"middle","fontSize":13,"fontWeight":"bold","color":"#111"}},
{"transform":[{"filter":"datum.k=='name'"}],"mark":{"type":"text","align":"left","baseline":"middle","fontSize":11,"color":"#111"}},
{"transform":[{"filter":"datum.k=='small'"}],"mark":{"type":"text","align":"left","baseline":"middle","fontSize":9,"color":"#111"}},
{"transform":[{"filter":"datum.k=='copy'"}],"mark":{"type":"text","align":"right","baseline":"middle","fontSize":10.5,"color":"#666"}},
{"transform":[{"filter":"datum.k=='date'"}],"mark":{"type":"text","align":"right","baseline":"middle","fontSize":11,"color":"#222"}},
{"transform":[{"filter":"datum.k=='pct'"}],"mark":{"type":"text","align":"right","baseline":"middle","fontSize":15,"fontWeight":"bold","color":"#1d7a32"}},
{"transform":[{"filter":"datum.k=='lab'"}],"mark":{"type":"text","align":"left","baseline":"middle","fontSize":11,"color":"#222"}},
{"transform":[{"filter":"datum.k=='val'"}],"mark":{"type":"text","align":"right","baseline":"middle","fontSize":11,"fontWeight":"bold","color":"#111"}},
{"transform":[{"filter":"datum.k=='valL'"}],"mark":{"type":"text","align":"left","baseline":"middle","fontSize":11,"fontWeight":"bold","color":"#111"}}
]
},
{
"width":643,"height":283,
"encoding":{
"x":{"field":"d","type":"temporal","title":null,
"scale":{"domain":[{"year":1987,"month":7,"date":29,"hours":14},{"year":1988,"month":10,"date":9,"hours":21}]},
"axis":{"tickCount":{"interval":"month","step":1},"grid":true,"gridColor":"#dcdcdc","labelExpr":"month(datum.value)==0 ? timeFormat(datum.value,'%Y') : timeFormat(datum.value,'%b')","labelFontWeight":{"condition":{"test":"month(datum.value)==0","value":"bold"},"value":"normal"},"labelFont":"Liberation Sans","labelFontSize":10.5,"labelColor":"#222","labelOverlap":false,"labelFlush":false,"tickColor":"#999","tickSize":3,"labelPadding":0,"domain":false}}
},
"layer":[
{
"data":{"name":"px"},
"transform":[{"window":[{"op":"lag","field":"c","as":"pc"}],"sort":[{"field":"d","order":"ascending"}]}],
"encoding":{"color":{"condition":{"test":"datum.pc != null && datum.c < datum.pc","value":"#f00000"},"value":"#000000"}},
"layer":[
{"mark":{"type":"rule","strokeWidth":1.2},
"encoding":{"y":{"field":"l","type":"quantitative","title":null,"scale":{"type":"log","domain":[209.1,350.5],"nice":false,"zero":false},
"axis":{"orient":"right","values":[220,230,240,250,260,270,280,290,300,310,320,330,340],"format":"d","grid":true,"gridColor":"#e3e3e3","labelFont":"Liberation Sans","labelFontSize":10.5,"labelColor":"#222","tickColor":"#999","tickSize":3,"labelPadding":2,"domain":false}},
"y2":{"field":"h"}}},
{"mark":{"type":"point","shape":"M0,0H1","filled":false,"size":12,"strokeWidth":1,"opacity":1},
"encoding":{"y":{"field":"c","type":"quantitative","title":null,"scale":{"type":"log","domain":[209.1,350.5],"nice":false,"zero":false}}}}
]
},
{
"data":{"name":"ema"},
"mark":{"type":"line","strokeWidth":1.5,"interpolate":"monotone"},
"encoding":{
"y":{"field":"v","type":"quantitative","title":null,"scale":{"type":"log","domain":[209.1,350.5],"nice":false,"zero":false}},
"color":{"field":"s","type":"nominal","scale":{"domain":["EMA(20) 270.26","EMA(60) 267.57","EMA(260) 266.95"],"range":["#1c1c9e","#f01818","#0a6e0a"]},
"legend":{"title":"ıl $SPX (Daily) 278.07 (7 Oct)","orient":"top-left","offset":0,"padding":2,"symbolType":"stroke","symbolSize":100,"symbolStrokeWidth":2.5,"labelFont":"Liberation Sans","labelFontSize":10,"labelOffset":1,"rowPadding":2.5,"titleFont":"DejaVu Sans Mono","titleFontSize":9.5,"titleFontWeight":"normal","titleColor":"#111","titlePadding":3,"titleLimit":300,
"encode":{"labels":{"update":{"fill":{"signal":"indexof(datum.value,'(20)')>=0 ? '#1c1c9e' : (indexof(datum.value,'(60)')>=0 ? '#e80000' : '#006400')"}}},"entries":{"update":{"fill":{"value":"white"},"width":{"value":83},"height":{"value":12}}}}}}
}
},
{
"data":{"name":"ann"},
"transform":[{"filter":"datum.p=='low'"}],
"encoding":{"y":{"field":"v","type":"quantitative","title":null,"scale":{"type":"log","domain":[209.1,350.5],"nice":false,"zero":false}}},
"layer":[
{"mark":{"type":"point","shape":"M-1,0.36H-0.25L0,0.06L0.25,0.36H1V1H-1Z","size":1024,"filled":true,"fill":"#ffffff","stroke":"#b8b8b8","strokeWidth":1,"opacity":1}},
{"mark":{"type":"text","dy":11,"fontSize":9.5,"color":"#222","baseline":"middle"},"encoding":{"text":{"field":"v","type":"quantitative","format":".2f"}}}
]
},
{
"data":{"name":"ann"},
"transform":[{"filter":"datum.p=='high'"}],
"encoding":{"y":{"field":"v","type":"quantitative","title":null,"scale":{"type":"log","domain":[209.1,350.5],"nice":false,"zero":false}}},
"layer":[
{"mark":{"type":"point","shape":"M-1,-0.36H-0.25L0,-0.06L0.25,-0.36H1V-1H-1Z","size":1024,"filled":true,"fill":"#ffffff","stroke":"#b8b8b8","strokeWidth":1,"opacity":1}},
{"mark":{"type":"text","dy":-11,"fontSize":9.5,"color":"#222","baseline":"middle"},"encoding":{"text":{"field":"v","type":"quantitative","format":".2f"}}}
]
},
{
"data":{"name":"note"},
"encoding":{"y":{"field":"v","type":"quantitative","title":null,"scale":{"type":"log","domain":[209.1,350.5],"nice":false,"zero":false}}},
"layer":[
{"transform":[{"filter":"datum.g=='text'"}],"mark":{"type":"text","font":"Noto Sans CJK TC","fontSize":23,"color":"#2b8bd9","align":"center","baseline":"middle"},"encoding":{"text":{"field":"t"}}},
{"transform":[{"filter":"datum.g=='arrow'"}],"mark":{"type":"line","strokeWidth":4,"color":"#2bc3e6","strokeCap":"butt"}},
{"transform":[{"filter":"datum.g=='head'"}],"mark":{"type":"point","shape":"M0,0L-1.6,-0.8L-1.6,0.8Z","size":400,"filled":true,"color":"#2bc3e6","angle":29.6,"opacity":1}},
{"transform":[{"filter":"datum.g=='ring'"}],"mark":{"type":"point","shape":"circle","filled":false,"size":2124,"strokeWidth":4,"color":"#2bc3e6","opacity":1}}
]
}
]
}
]
}
